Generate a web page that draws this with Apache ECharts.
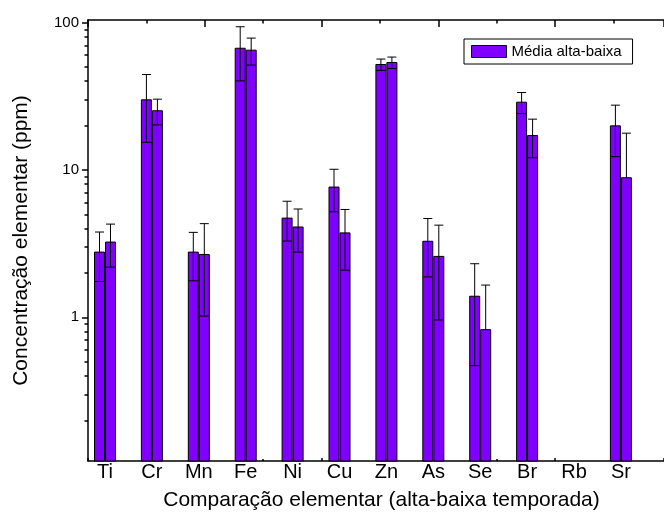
<!DOCTYPE html>
<html>
<head>
<meta charset="utf-8">
<script src="https://cdn.jsdelivr.net/npm/echarts@6/dist/echarts.min.js"></script>
<style>
  html, body { margin: 0; padding: 0; background: #fff; }
  #chart { width: 664px; height: 521px; }
</style>
</head>
<body>
<div id="chart"></div>
<script>
// 元素与数据
const elements = ['Ti', 'Cr', 'Mn', 'Fe', 'Ni', 'Cu', 'Zn', 'As', 'Se', 'Br', 'Rb', 'Sr']
const altaMean = [2.77, 29.9, 2.77, 66.9, 4.71, 7.65, 51.9, 3.28, 1.39, 28.8, null, 19.9]
const altaSd = [1.02, 14.5, 1.0, 26.7, 1.42, 2.45, 4.6, 1.4, 0.92, 4.7, null, 7.6]
const baixaMean = [3.24, 25.2, 2.67, 64.9, 4.10, 3.74, 53.5, 2.59, 0.825, 17.1, null, 8.85]
const baixaSd = [1.05, 5.0, 1.65, 13.5, 1.33, 1.65, 4.8, 1.63, 0.83, 5.0, null, 8.9]

// 刻度
const majorTicks = [1, 10, 100]
const minorTicks = [0.2, 0.3, 0.4, 0.5, 0.6, 0.7, 0.8, 0.9, 2, 3, 4, 5, 6, 7, 8, 9, 20, 30, 40, 50, 60, 70, 80, 90]

const FONT = 'Liberation Sans, Arial, sans-serif'
const Y_MIN = 0.106
const Y_MAX = 104
const BAR_COLOR = '#8000ff'
const BAR_W = 10

/** 柱 + 误差棒（柱从坐标轴底部画起） */
function barWithError(offset) {
  return function (params, api) {
    const i = api.value(0)
    const m = api.value(1)
    const sd = api.value(2)
    const cs = params.coordSys
    const bottom = cs.y + cs.height
    const mid = api.coord([i, m])
    const top = api.coord([i, m + sd])
    const x = mid[0] + offset
    const style = { stroke: '#000', lineWidth: 1 }
    const children = [{
      type: 'rect',
      shape: { x: x - BAR_W / 2, y: mid[1], width: BAR_W, height: bottom - mid[1] },
      style: { fill: BAR_COLOR, stroke: '#000', lineWidth: 1 }
    }]
    let yLow = mid[1]
    if (m - sd > 0) {
      yLow = api.coord([i, m - sd])[1]
      children.push({ type: 'line', shape: { x1: x - 4.5, y1: yLow, x2: x + 4.5, y2: yLow }, style })
    }
    children.push({ type: 'line', shape: { x1: x, y1: top[1], x2: x, y2: yLow }, style })
    children.push({ type: 'line', shape: { x1: x - 4.5, y1: top[1], x2: x + 4.5, y2: top[1] }, style })
    return { type: 'group', children }
  }
}

function seriesData(means, sds) {
  return means.map((m, i) => [i, m, sds[i]]).filter(d => d[1] != null)
}

const chart = echarts.init(document.getElementById('chart'))
chart.setOption({
  animation: false,
  textStyle: { fontFamily: FONT, color: '#000' },
  grid: [
    { left: 88, top: 20, width: 577, height: 441 },
    { left: 81.55, top: 20, width: 562.8, height: 441 }
  ],
  legend: {
    left: 464, top: 39,
    padding: [5, 11, 5, 7],
    borderColor: '#000', borderWidth: 1,
    itemWidth: 35, itemHeight: 12,
    textStyle: { fontSize: 15, fontFamily: FONT, color: '#000', lineHeight: 15 },
    data: [{ name: 'Média alta-baixa', icon: 'rect', itemStyle: { color: BAR_COLOR, borderColor: '#000', borderWidth: 1 } }]
  },
  xAxis: [
    {
      gridIndex: 0, type: 'value', position: 'top', min: 0, max: 9.863, interval: 2,
      axisLine: { show: true, lineStyle: { color: '#000', width: 1.5 } },
      axisTick: { show: true, inside: true, length: 7, lineStyle: { color: '#000', width: 1.5 } },
      minorTick: { show: true, splitNumber: 2, length: 3.5, lineStyle: { color: '#000', width: 1.5 } },
      axisLabel: { show: false }, splitLine: { show: false }, minorSplitLine: { show: false }
    },
    {
      gridIndex: 0, type: 'value', position: 'bottom', min: 0, max: 9.863, interval: 2,
      axisLine: { show: true, onZero: false, lineStyle: { color: '#000', width: 1.5 } },
      axisTick: { show: true, inside: true, length: 3, lineStyle: { color: '#000', width: 1.5 } },
      minorTick: { show: true, splitNumber: 2, length: 2, lineStyle: { color: '#000', width: 1.5 } },
      axisLabel: { show: false }, splitLine: { show: false }, minorSplitLine: { show: false },
      name: 'Comparação elementar (alta-baixa temporada)',
      nameLocation: 'middle', nameGap: 29,
      nameTextStyle: { fontSize: 21, fontFamily: FONT, color: '#000', padding: [0, 0, 0, 11] }
    },
    {
      gridIndex: 1, type: 'category', data: elements,
      axisLine: { show: false }, axisTick: { show: false },
      axisLabel: { fontSize: 20, fontFamily: FONT, color: '#000', margin: 1 }
    }
  ],
  yAxis: [
    {
      gridIndex: 0, type: 'log', min: Y_MIN, max: Y_MAX, position: 'left',
      axisLine: { show: true, lineStyle: { color: '#000', width: 1.5 } },
      axisTick: { show: true, length: 6, customValues: majorTicks, lineStyle: { color: '#000', width: 1.5 } },
      axisLabel: { customValues: majorTicks, fontSize: 15, fontFamily: FONT, color: '#000', margin: 9 },
      splitLine: { show: false },
      name: 'Concentração elementar (ppm)',
      nameLocation: 'middle', nameGap: 56,
      nameTextStyle: { fontSize: 21, fontFamily: FONT, color: '#000' }
    },
    {
      gridIndex: 0, type: 'log', min: Y_MIN, max: Y_MAX, position: 'left',
      axisLine: { show: false },
      axisTick: { show: true, length: 3.5, customValues: minorTicks, lineStyle: { color: '#000', width: 1.5 } },
      axisLabel: { show: false },
      splitLine: { show: false }
    },
    { gridIndex: 1, type: 'log', min: Y_MIN, max: Y_MAX, show: false }
  ],
  series: [
    {
      name: 'Média alta-baixa', type: 'custom', xAxisIndex: 2, yAxisIndex: 2,
      itemStyle: { color: BAR_COLOR, borderColor: '#000', borderWidth: 1 },
      encode: { x: 0, y: 1 },
      renderItem: barWithError(-5.5), data: seriesData(altaMean, altaSd)
    },
    {
      name: 'baixa', type: 'custom', xAxisIndex: 2, yAxisIndex: 2,
      itemStyle: { color: BAR_COLOR, borderColor: '#000', borderWidth: 1 },
      encode: { x: 0, y: 1 },
      renderItem: barWithError(5.5), data: seriesData(baixaMean, baixaSd)
    }
  ]
})
</script>
</body>
</html>
